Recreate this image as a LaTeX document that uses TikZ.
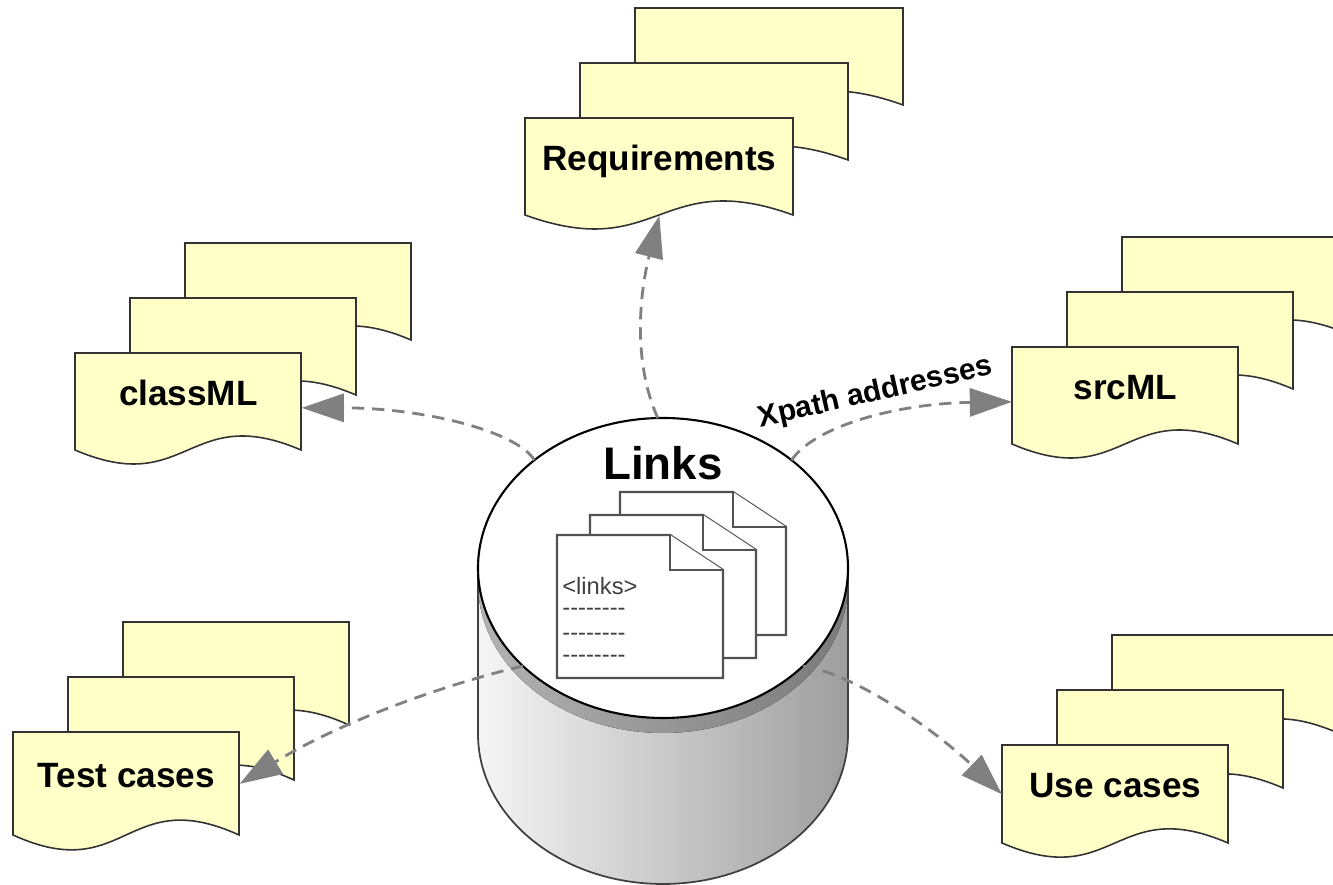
\documentclass[tikz,border=0pt]{standalone}
\usepackage{fontspec}
\setmainfont{Liberation Sans}
\usetikzlibrary{arrows.meta, shapes.geometric}

\definecolor{paper}{RGB}{255,255,200}

% three stacked sheets with a wavy lower edge, the front one carries the label
% #1 name, #2/#3 top left of the front sheet, #4 width, #5 height, #6 label
\newcommand{\docstack}[6]{%
  \foreach \s in {2,1,0}
    \filldraw[sheet] ({#2+1.1*\s},{#3+1.1*\s}) -- ++(0,-#5)
      .. controls +({0.5*#4},{-0.5*#5}) and +({-0.5*#4},{0.5*#5}) .. ++(#4,0)
      -- ++(0,#5) -- cycle;
  \node[doclabel, anchor=north west, minimum width=#4cm, minimum height=#5cm]
    (#1) at (#2,#3) {#6};
}

\begin{document}
\begin{tikzpicture}[
  sheet/.style={draw=black!80, line width=0.9pt, fill=paper},
  doclabel/.style={
    font=\fontsize{20}{24}\selectfont\bfseries,
    text height=0.37cm,
    text depth=0.23cm,
    inner sep=0pt
  },
  page/.style={draw=black!68, line width=1.25pt, fill=white},
  pagetext/.style={font=\fontsize{13.5}{16}\selectfont, text=black!75, inner sep=0pt, anchor=west},
  link/.style={
    draw=black!50,
    line width=1.6pt,
    dash pattern=on 7pt off 4.5pt,
    -{Triangle[length=24pt, width=16pt]}
  }
]
\useasboundingbox (0,0) rectangle (26.66,17.70);
\clip (0,0) rectangle (26.66,17.70);

% --- document stacks ---
\docstack{reqs}{10.50}{15.34}{5.36}{1.94}{Requirements}
\docstack{classml}{1.50}{10.64}{4.52}{1.94}{classML}
\docstack{srcml}{20.24}{10.76}{4.52}{1.94}{srcML}
\docstack{tests}{0.26}{3.06}{4.52}{2.06}{Test cases}
\docstack{usecases}{20.04}{2.80}{4.52}{1.96}{Use cases}

% --- link store (cylinder) ---
\fill[left color=black!4, right color=black!38]
  (9.56,6.34) -- (9.56,3.02)
  arc[start angle=180, end angle=360, x radius=3.70, y radius=3.00]
  -- (16.96,6.34) -- cycle;
\fill[left color=black!30, right color=black!52]
  (13.26,6.04) ellipse[x radius=3.70, y radius=3.00];
\draw[black!75, line width=1pt]
  (9.56,6.34) -- (9.56,3.02)
  arc[start angle=180, end angle=360, x radius=3.70, y radius=3.00]
  -- (16.96,6.34);
\node[ellipse, draw, line width=1.2pt, fill=white, inner sep=0pt, outer sep=0pt,
  minimum width=7.40cm, minimum height=6.00cm] (store) at (13.26,6.34) {};

\node[font=\fontsize{26}{30}\selectfont\bfseries, anchor=base] (storetitle)
  at (13.26,8.10) {Links};

% pages with a folded corner
\foreach \x/\y in {12.40/5.00, 11.80/4.54, 11.14/4.14} {
  \filldraw[page] (\x,\y) -- ++(0,2.86) -- ++(2.26,0) -- ++(1.06,-0.70)
    -- ++(0,-2.16) -- cycle;
  \draw[page] ({\x+2.26},{\y+2.86}) -- ++(0,-0.70) -- ++(1.06,0);
}

\node[pagetext] (tag) at (11.24,5.98) {<links>};
\foreach \y/\n in {5.46/1, 4.96/2, 4.52/3}
  \node[pagetext] (row\n) at (11.24,\y)
    {-\kern0pt-\kern0pt-\kern0pt-\kern0pt-\kern0pt-\kern0pt-\kern0pt-};

% --- links ---
\draw[link] (store.92) .. controls +(-0.52,1.16) and +(-0.38,-1.50) .. (reqs.south);
\draw[link] (store.140) .. controls +(-0.38,0.60) and +(2.38,0) ..
  ([yshift=-0.12cm]classml.east);
\draw[link] (store.40) .. controls +(0.48,0.70) and +(-2.24,-0.03) ..
  node[pos=0.55, sloped, above=1pt, font=\fontsize{17}{20}\selectfont\bfseries, text=black]
  (xpath) {Xpath addresses}
  ([yshift=-0.12cm]srcml.west);
\draw[link] (store.215) .. controls +(-1.46,-0.34) and +(2.08,1.28) .. (tests.east);
\draw[link] (store.325) .. controls +(1.14,-0.18) and +(-1.20,1.16) .. (usecases.west);

\end{tikzpicture}
\end{document}
